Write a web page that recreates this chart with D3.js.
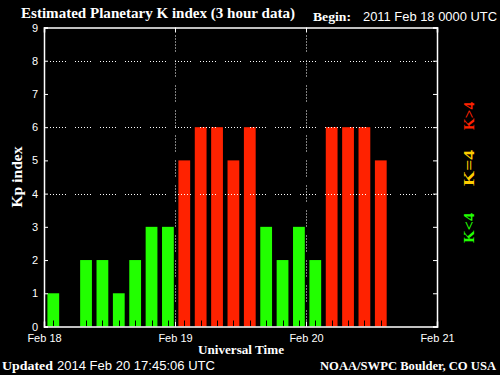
<!DOCTYPE html>
<html><head><meta charset="utf-8">
<script src="https://cdn.jsdelivr.net/npm/d3@7"></script>
<style>
html,body{margin:0;padding:0;background:#000;}
svg{display:block;}
text{fill:#fff;}
</style></head>
<body><svg id="c" width="500" height="375"></svg>
<script>
// ---- data ----
const slotTimes = [
  "2011-02-18T00:00Z","2011-02-18T03:00Z","2011-02-18T06:00Z","2011-02-18T09:00Z",
  "2011-02-18T12:00Z","2011-02-18T15:00Z","2011-02-18T18:00Z","2011-02-18T21:00Z",
  "2011-02-19T00:00Z","2011-02-19T03:00Z","2011-02-19T06:00Z","2011-02-19T09:00Z",
  "2011-02-19T12:00Z","2011-02-19T15:00Z","2011-02-19T18:00Z","2011-02-19T21:00Z",
  "2011-02-20T00:00Z","2011-02-20T03:00Z","2011-02-20T06:00Z","2011-02-20T09:00Z",
  "2011-02-20T12:00Z"
];
const kpValues = [1,0,2,2,1,2,3,3, 5,6,6,5,6,3,2,3, 2,6,6,6,5];
const dayTicks = ["2011-02-18T00:00Z","2011-02-19T00:00Z","2011-02-20T00:00Z","2011-02-21T00:00Z"];
const dayLabels = ["Feb 18","Feb 19","Feb 20","Feb 21"];
const yTicks = [0,1,2,3,4,5,6,7,8,9];
const gridLevels = [4,6,8];
const legendItems = [
  {label:"K>4", color:"#ff2200"},
  {label:"K=4", color:"#ffcc00"},
  {label:"K<4", color:"#22ff00"}
];

const svg = d3.select("#c");
svg.append("rect").attr("width",500).attr("height",375).attr("fill","#000");

const X0=44, X1=437, Y0=27.5, Y1=326.5;
const x = d3.scaleUtc().domain([new Date(dayTicks[0]), new Date(dayTicks[3])]).range([X0,X1]);
const y = d3.scaleLinear().domain([0,9]).range([Y1,Y0]);
const slotW = x(new Date(slotTimes[1])) - x(new Date(slotTimes[0]));
const colorOf = v => v>4 ? "#ff2200" : (v===4 ? "#ffcc00" : "#22ff00");
const dash = "1,2,1,2,1,2,1,2,1,2,1,9";

// bars
const bars = slotTimes.map((t,i)=>({t:new Date(t), v:kpValues[i]}));
svg.append("g").selectAll("rect").data(bars).join("rect")
  .attr("x", d=>x(d.t)+3.4)
  .attr("width", slotW-4.6)
  .attr("y", d=>y(d.v))
  .attr("height", d=>y(0)-y(d.v))
  .attr("fill", d=>colorOf(d.v));
// small black ticks at bar centers
svg.append("g").selectAll("line").data(bars).join("line")
  .attr("x1", d=>Math.round(x(d.t)+3.4+(slotW-4.6)/2)+0.5)
  .attr("x2", d=>Math.round(x(d.t)+3.4+(slotW-4.6)/2)+0.5)
  .attr("y1", Y1-6).attr("y2", Y1)
  .attr("stroke","#000").attr("stroke-width",1);

// grid
svg.append("g").selectAll("line").data(gridLevels).join("line")
  .attr("x1",X0+6).attr("x2",X1-2)
  .attr("y1",d=>Math.round(y(d))+0.5).attr("y2",d=>Math.round(y(d))+0.5)
  .attr("stroke","#fff").attr("stroke-dasharray",dash);
svg.append("g").selectAll("line").data(dayTicks.slice(1,3)).join("line")
  .attr("x1",d=>Math.round(x(new Date(d)))+0.5).attr("x2",d=>Math.round(x(new Date(d)))+0.5)
  .attr("y1",Y0+8).attr("y2",Y1)
  .attr("stroke","#fff").attr("stroke-dasharray",dash);

// axes
const fontSans = "'Liberation Sans', Arial, sans-serif";
const fontSerif = "'Liberation Serif', 'DejaVu Serif', serif";
const yAxis = d3.axisLeft(y).tickValues(yTicks).tickSize(-4).tickPadding(6).tickFormat(d3.format("d"));
const gy = svg.append("g").attr("transform",`translate(${X0},0)`).call(yAxis);
gy.selectAll("text").attr("font-family",fontSans).attr("font-size",11).attr("fill","#fff");
const yAxisR = d3.axisRight(y).tickValues(yTicks).tickSize(-4).tickFormat("");
svg.append("g").attr("transform",`translate(${X1},0)`).call(yAxisR);
const xAxis = d3.axisBottom(x).tickValues(dayTicks.map(d=>new Date(d))).tickSize(-5).tickPadding(8)
  .tickFormat((d,i)=>dayLabels[i]);
const gx = svg.append("g").attr("transform",`translate(0,${Y1})`).call(xAxis);
gx.selectAll("text").attr("font-family",fontSans).attr("font-size",11).attr("fill","#fff");
const xAxisT = d3.axisTop(x).tickValues(dayTicks.map(d=>new Date(d))).tickSize(-5).tickFormat("");
svg.append("g").attr("transform",`translate(0,${Y0})`).call(xAxisT);
svg.selectAll(".domain").attr("stroke","#fff").attr("stroke-width",1.5);
svg.selectAll(".tick line").attr("stroke","#fff").attr("stroke-width",1);

// texts
svg.append("text").attr("x",21).attr("y",18).attr("font-family",fontSerif).attr("font-weight","bold")
  .attr("font-size",14).attr("textLength",274).attr("lengthAdjust","spacingAndGlyphs")
  .text("Estimated Planetary K index (3 hour data)");
svg.append("text").attr("x",313).attr("y",21).attr("font-family",fontSerif).attr("font-weight","bold")
  .attr("font-size",13).attr("textLength",38).attr("lengthAdjust","spacingAndGlyphs").text("Begin:");
svg.append("text").attr("x",363).attr("y",21).attr("font-family",fontSans)
  .attr("font-size",12).attr("textLength",134).attr("lengthAdjust","spacingAndGlyphs").text("2011 Feb 18 0000 UTC");
svg.append("text").attr("transform","translate(22,177) rotate(-90)").attr("text-anchor","middle")
  .attr("font-family",fontSerif).attr("font-weight","bold").attr("font-size",14)
  .attr("textLength",61).attr("lengthAdjust","spacingAndGlyphs").text("Kp index");
svg.append("text").attr("x",241).attr("y",354).attr("text-anchor","middle")
  .attr("font-family",fontSerif).attr("font-weight","bold").attr("font-size",12)
  .attr("textLength",86).attr("lengthAdjust","spacingAndGlyphs").text("Universal Time");
svg.append("text").attr("x",2).attr("y",370).attr("font-family",fontSerif).attr("font-weight","bold")
  .attr("font-size",13).attr("textLength",51).attr("lengthAdjust","spacingAndGlyphs").text("Updated");
svg.append("text").attr("x",57).attr("y",370).attr("font-family",fontSans)
  .attr("font-size",12).attr("textLength",158).attr("lengthAdjust","spacingAndGlyphs").text("2014 Feb 20 17:45:06 UTC");
svg.append("text").attr("x",496).attr("y",370).attr("text-anchor","end").attr("font-family",fontSerif).attr("font-weight","bold")
  .attr("font-size",12).attr("textLength",176).attr("lengthAdjust","spacingAndGlyphs").text("NOAA/SWPC Boulder, CO USA");

// legend
const legendPos = [{c:116,len:28},{c:168,len:36},{c:228,len:30}];
svg.append("g").selectAll("text").data(legendItems).join("text")
  .attr("transform",(d,i)=>`translate(474,${legendPos[i].c}) rotate(-90)`)
  .attr("text-anchor","middle")
  .attr("font-family",fontSerif).attr("font-weight","bold").attr("font-size",15)
  .attr("textLength",(d,i)=>legendPos[i].len).attr("lengthAdjust","spacingAndGlyphs")
  .style("fill",d=>d.color)
  .text(d=>d.label);
</script></body></html>
